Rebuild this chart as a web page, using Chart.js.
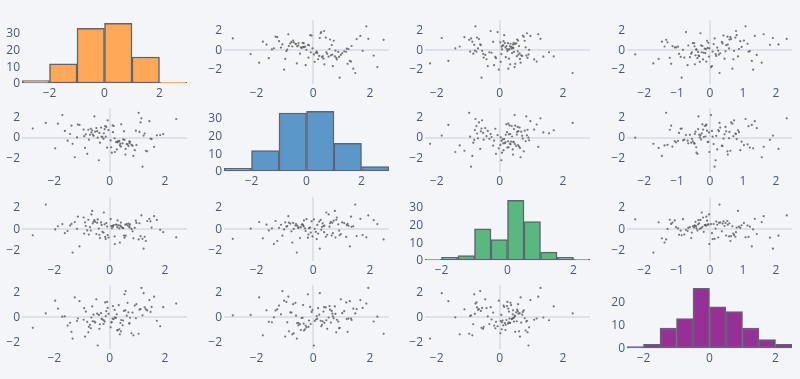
<!DOCTYPE html>
<html>
<head>
<meta charset="utf-8">
<script src="https://cdn.jsdelivr.net/npm/chart.js@4.4.1/dist/chart.umd.min.js"></script>
<style>
  html, body { margin: 0; padding: 0; background: #f4f5f9; }
  #wrap { position: relative; width: 800px; height: 379px; overflow: hidden; }
  .cell { position: absolute; }
</style>
</head>
<body>
<div id="wrap"></div>
<script>
// four variables, 100 observations each
const varA = [
  0.42, -0.31, 1.27, -1.52, 0.08, -0.77, 0.65, -0.14, 1.61, 1.08,
  -0.58, 0.23, -2.78, 0.91, -0.22, 1.44, -0.86, 0.37, -1.18, 0.54,
  0.15, 1.12, -0.45, 0.72, 1.83, -1.71, 0.29, -0.63, 0.86, -0.09,
  -0.37, 0.49, 1.36, -0.92, 0.11, -1.34, -0.18, 0.68, 2.41, -0.71,
  0.33, -0.52, 0.79, 1.19, -0.26, 0.04, -1.87, -0.66, 0.58, -0.12,
  -0.81, 0.26, -0.35, 0.95, 1.52, -1.09, -1.43, 0.41, -0.48, 0.18,
  0.62, 1.71, -0.07, 0.35, -0.94, -1.26, 0.83, -0.29, 1.05, 0.12,
  -0.61, 0.47, -1.62, -0.16, 0.74, 1.31, -0.43, 0.06, -2.31, -0.75,
  0.28, -0.21, 1.48, 0.57, -0.68, -1.15, 0.97, -0.39, 1.23, 0.39,
  -0.04, 0.71, -0.55, 1.94, -1.38, 0.19, -0.89, 0.52, 1.15, -1.97
];
const varB = [
  1.35, 1.02, 0.44, -0.27, -1.46, 0.81, -0.63, 0.12, -0.88, 0.59,
  0.21, -0.41, 0.93, -1.21, -0.09, 1.66, 0.36, -0.74, 0.05, -0.19,
  1.18, 1.53, 0.67, -0.52, 0.28, 2.26, -0.33, 0.76, -1.78, -0.95,
  0.49, -0.15, -1.33, 0.17, 1.24, -0.58, 0.88, -0.81, 1.87, 0.31,
  -0.36, 0.62, -0.69, -2.84, 0.09, -0.24, 1.41, 0.54, -1.09, 1.09,
  -1.57, -1.14, -0.47, 0.72, -0.11, 1.29, 0.39, -0.86, 0.97, -0.03,
  -0.61, 0.26, 1.74, -0.29, 0.83, -1.91, -0.77, 0.14, 2.48, 0.57,
  0.33, -0.53, 0.69, 1.16, -0.38, -1.27, 0.02, -0.92, 1.48, -0.17,
  -0.44, 0.46, -0.06, -1.65, 0.91, 1.33, -0.71, -2.21, 0.23, -0.57,
  0.78, -0.34, 2.13, 0.38, 1.21, -1.39, -0.99, 0.65, 1.94, -1.03
];
const varC = [
  0.21, 0.63, -0.72, -0.18, 0.07, 0.88, 0.34, -0.94, 1.22, 0.55,
  0.71, 0.43, -0.58, 0.12, -0.33, 0.97, 0.29, -1.27, 0.03, -0.81,
  0.38, -0.66, 0.59, 0.16, -0.07, 0.47, 0.82, 1.71, -0.87, 0.24,
  -0.53, 0.09, 0.76, -0.42, 0.31, -2.21, 0.45, 0.52, -0.77, 0.19,
  0.36, 0.68, 0.02, -0.91, -0.26, 0.93, 0.27, 1.38, -0.62, 0.57,
  -0.12, 0.41, -0.84, 0.79, 0.14, -1.63, 0.33, 0.61, -0.46, -0.69,
  0.48, 0.86, -0.56, 0.06, 1.09, 0.66, -0.21, 0.39, -0.97, 0.23,
  0.54, 0.11, -0.38, -0.74, 0.44, -1.12, 0.91, 0.28, 2.31, -0.51,
  0.18, 1.56, 0.73, 0.42, -0.14, 1.17, 0.58, 0.05, -1.84, 0.32,
  -0.79, 0.26, 0.84, -0.29, 0.49, -1.41, 0.64, -0.6, 1.29, -0.03
];
const varD = [
  -0.23, 0.31, 0.77, -0.68, -0.41, -1.22, 1.14, 0.08, 1.63, 0.59,
  0.19, -0.07, -0.86, 0.92, -0.55, 1.36, 0.44, -1.38, -0.31, 1.82,
  -0.16, 0.64, 0.27, -0.48, -0.73, 0.03, -1.07, 0.85, -1.46, 1.21,
  -0.94, -0.27, 0.53, 0.71, -0.12, -1.72, -0.36, 0.38, 1.08, -0.61,
  0.96, -0.44, -1.29, 0.14, -0.19, -0.82, 0.68, -0.03, 2.08, 0.47,
  -0.38, 0.22, -0.57, -0.09, 0.81, 1.27, -0.46, -1.14, 1.42, 0.58,
  0.11, -0.29, 0.73, -0.97, -0.21, 1.57, 0.36, -0.14, -1.33, 0.88,
  -0.33, -0.66, 0.06, 1.17, -0.05, 0.62, -2.27, -0.42, 0.29, -0.78,
  -1.03, -0.25, 0.41, 0.54, -0.89, -0.11, 1.03, 0.17, 1.91, -0.47,
  0.25, -0.52, -0.35, 0.79, -1.18, -0.02, -1.56, 0.49, 2.33, 1.31
];
const vars = [varA, varB, varC, varD];

// histogram bins per variable
const binStarts = [-3, -3, -2.5, -2.5];
const binSizes = [1, 1, 0.5, 0.5];
const binCounts = [6, 6, 10, 10];

// axis ranges of the scatter panels: x per column, y per row
const colRanges = [[-3.17, 2.8], [-3.15, 2.67], [-2.37, 2.86], [-2.52, 2.49]];
const rowRanges = [[-3.42, 3.03], [-3.37, 2.94], [-3.0, 3.0], [-2.55, 2.55]];
const colSteps = [2, 2, 2, 1];

const histColors = ['#ffa857', '#5b97c9', '#58b87d', '#972f97'];

// layout of the grid
const colLeft = [22, 224, 425, 627];
const rowTop = [19, 107, 196, 284];
const plotW = 165, plotH = 65;
const padL = 28, padT = 8, padR = 6, padB = 24;

const tickFont = { family: "'Open Sans', sans-serif", size: 12 };
const tickColor = '#4a5873';
const zeroColor = '#dde1ea';

function fmt(v) {
  return String(v).replace('-', '\u2212');
}

function axis(min, max, step, zero, isX) {
  return {
    type: 'linear',
    min: min,
    max: max,
    offset: false,
    border: { display: false },
    grid: {
      offset: false,
      drawTicks: false,
      lineWidth: 2,
      color: ctx => (zero && ctx.tick && ctx.tick.value === 0) ? zeroColor : 'rgba(0,0,0,0)'
    },
    ticks: {
      autoSkip: false,
      maxRotation: 0,
      color: tickColor,
      font: tickFont,
      padding: 2,
      callback: fmt
    },
    // ticks on multiples of the step, like the reference
    afterBuildTicks: s => {
      const t = [];
      for (let v = Math.ceil(min / step - 1e-9) * step; v <= max + 1e-9; v += step) {
        t.push({ value: Math.round(v * 1e6) / 1e6 });
      }
      s.ticks = t;
    },
    afterFit: isX ? (s => { s.height = padB; }) : (s => { s.width = padL; })
  };
}

function histogram(i) {
  const counts = new Array(binCounts[i]).fill(0);
  vars[i].forEach(v => {
    const k = Math.floor((v - binStarts[i]) / binSizes[i]);
    if (k >= 0 && k < counts.length) counts[k]++;
  });
  return counts.map((c, k) => ({ x: binStarts[i] + (k + 0.5) * binSizes[i], y: c }));
}

const wrap = document.getElementById('wrap');

for (let r = 0; r < 4; r++) {
  for (let c = 0; c < 4; c++) {
    const cell = document.createElement('div');
    cell.className = 'cell';
    cell.style.left = (colLeft[c] - padL) + 'px';
    cell.style.top = (rowTop[r] - padT) + 'px';
    cell.style.width = (plotW + padL + padR) + 'px';
    cell.style.height = (plotH + padT + padB) + 'px';
    const canvas = document.createElement('canvas');
    cell.appendChild(canvas);
    wrap.appendChild(cell);

    let config;
    if (r === c) {
      const bins = histogram(r);
      const maxCount = Math.max(...bins.map(b => b.y));
      const lo = binStarts[r], hi = binStarts[r] + binCounts[r] * binSizes[r];
      config = {
        type: 'bar',
        data: {
          datasets: [{
            data: bins,
            backgroundColor: histColors[r],
            borderColor: '#5e6570',
            borderWidth: 1.5,
            borderSkipped: false,
            barPercentage: 1,
            categoryPercentage: 1
          }]
        },
        options: {
          scales: {
            x: axis(lo, hi, 2, false, true),
            y: axis(0, maxCount * 1.05, 10, false, false)
          }
        }
      };
    } else {
      const xs = vars[c], ys = vars[r];
      config = {
        type: 'scatter',
        data: {
          datasets: [{
            data: xs.map((v, k) => ({ x: v, y: ys[k] })),
            pointRadius: 1.1,
            pointBorderWidth: 0,
            pointBackgroundColor: 'rgba(85,85,85,0.8)'
          }]
        },
        options: {
          scales: {
            x: axis(colRanges[c][0], colRanges[c][1], colSteps[c], true, true),
            y: axis(rowRanges[r][0], rowRanges[r][1], 2, true, false)
          }
        }
      };
    }
    config.options.responsive = true;
    config.options.maintainAspectRatio = false;
    config.options.animation = false;
    config.options.layout = { padding: { top: padT, right: padR, left: 0, bottom: 0 } };
    config.options.plugins = { legend: { display: false }, tooltip: { enabled: false } };
    new Chart(canvas, config);
  }
}
</script>
</body>
</html>
